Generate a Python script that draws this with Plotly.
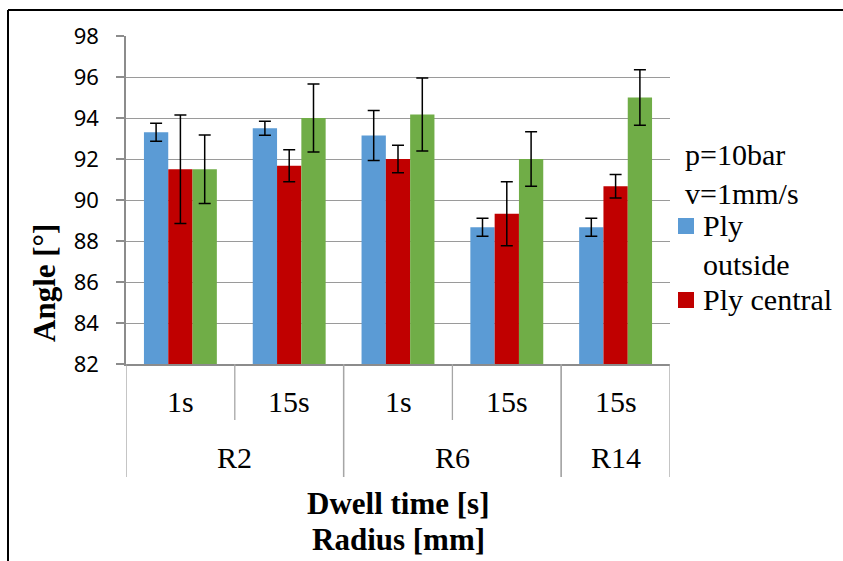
import plotly.graph_objects as go

# Category levels along the x axis
dwell_time = ["1s", "15s", "1s", "15s", "15s"]
radius = ["R2", "R2", "R6", "R6", "R14"]

# Mean angle [deg] and standard deviation per ply position
ply_outside = [93.3, 93.5, 93.15, 88.67, 88.67]
ply_outside_err = [0.44, 0.34, 1.22, 0.44, 0.44]
ply_central = [91.5, 91.67, 92.0, 89.33, 90.67]
ply_central_err = [2.65, 0.78, 0.67, 1.56, 0.57]
ply_inside = [91.5, 94.0, 94.17, 92.0, 95.0]
ply_inside_err = [1.67, 1.66, 1.78, 1.33, 1.35]

y_ticks = [82, 84, 86, 88, 90, 92, 94, 96, 98]
legend_header = "p=10bar<br>v=1mm/s"

series = [
    ("Ply<br>outside", ply_outside, ply_outside_err, "#5B9BD5"),
    ("Ply central", ply_central, ply_central_err, "#C00000"),
    ("Ply inside", ply_inside, ply_inside_err, "#70AD47"),
]

W, H = 843, 561
L, R, T, B = 126, 173, 36, 197
PW, PH = W - L - R, H - T - B


def px_x(px):
    return (px - L) / PW


def px_y(py):
    return (T + PH - py) / PH


SERIF = "Liberation Serif"
GRID = "#9a9a9a"
AXIS = "#8c8c8c"

x_pos = list(range(len(dwell_time)))

fig = go.Figure()
for name, vals, errs, color in series:
    fig.add_trace(go.Bar(
        x=x_pos, y=vals, name=name,
        marker=dict(color=color, line=dict(width=0)),
        error_y=dict(type="data", array=errs, visible=True,
                     color="black", thickness=1.5, width=6),
        showlegend=False,
    ))


def label(**kw):
    font = dict(family=SERIF, size=kw.pop("size", 30), color="black")
    fig.add_annotation(showarrow=False, font=font, **kw)


def line(**kw):
    fig.add_shape(type="line", **kw)


# Two-level category axis: dwell time labels, radius groups and dividers
for i, lab in enumerate(dwell_time):
    label(x=i, y=px_y(401), xref="x", yref="paper", text=lab,
          yanchor="middle")

groups = []
start = 0
for i in range(1, len(radius) + 1):
    if i == len(radius) or radius[i] != radius[start]:
        groups.append((radius[start], start, i - 1))
        start = i

for name, a, b in groups:
    label(x=(a + b) / 2, y=px_y(457), xref="x", yref="paper", text=name,
          yanchor="middle")
    for edge in (a - 0.5, b + 0.5):
        line(xref="x", yref="paper", x0=edge, x1=edge, y0=0, y1=px_y(477),
             line=dict(color="#a6a6a6", width=1.3))
    for k in range(a, b):
        line(xref="x", yref="paper", x0=k + 0.5, x1=k + 0.5, y0=0,
             y1=px_y(420), line=dict(color="#a6a6a6", width=1.3))

# Axis titles
label(x=px_x(398), y=px_y(503), xref="paper", yref="paper",
      text="<b>Dwell time [s]</b>", yanchor="middle", size=31)
label(x=px_x(398), y=px_y(539), xref="paper", yref="paper",
      text="<b>Radius [mm]</b>", yanchor="middle", size=31)
label(x=px_x(44), y=px_y(283), xref="paper", yref="paper",
      text="<b>Angle [°]</b>", textangle=-90, xanchor="center",
      yanchor="middle", size=31)

# Legend block: header, colour swatches and series names
label(x=px_x(683), y=px_y(136), xref="paper", yref="paper",
      text=legend_header, align="left", xanchor="left", yanchor="top",
      size=30)
legend_rows = [(series[0][0], 207, series[0][3]),
               (series[1][0], 281, series[1][3])]
for text, top, color in legend_rows:
    fig.add_shape(type="rect", xref="paper", yref="paper",
                  x0=px_x(678), x1=px_x(694),
                  y0=px_y(top + 27), y1=px_y(top + 11),
                  fillcolor=color, line=dict(width=0))
    label(x=px_x(701), y=px_y(top), xref="paper", yref="paper", text=text,
          align="left", xanchor="left", yanchor="top", size=30)

# Outer frame (left and top edges)
line(xref="paper", yref="paper", x0=px_x(8), x1=px_x(8), y0=px_y(10),
     y1=px_y(570), line=dict(color="black", width=2))
line(xref="paper", yref="paper", x0=px_x(8), x1=px_x(850), y0=px_y(10),
     y1=px_y(10), line=dict(color="black", width=2))

fig.update_layout(
    width=W, height=H,
    margin=dict(l=L, r=R, t=T, b=B, pad=0),
    paper_bgcolor="white", plot_bgcolor="white",
    font=dict(family=SERIF, color="black"),
    barmode="group", bargap=0.33, bargroupgap=0,
    showlegend=False,
    xaxis=dict(range=[-0.5, len(dwell_time) - 0.5], showticklabels=False,
               showgrid=False, zeroline=False, showline=True,
               linecolor=AXIS, linewidth=1.5, ticks=""),
    yaxis=dict(range=[y_ticks[0], y_ticks[-1]], tickvals=y_ticks,
               showgrid=True, gridcolor=GRID, gridwidth=1.3,
               zeroline=False, showline=True, linecolor=AXIS, linewidth=1.5,
               ticks="outside", ticklen=8, tickwidth=1.5, tickcolor=AXIS,
               ticklabelstandoff=13,
               tickfont=dict(family="Noto Sans", size=22, color="black")),
)

fig.write_html("out.html")
